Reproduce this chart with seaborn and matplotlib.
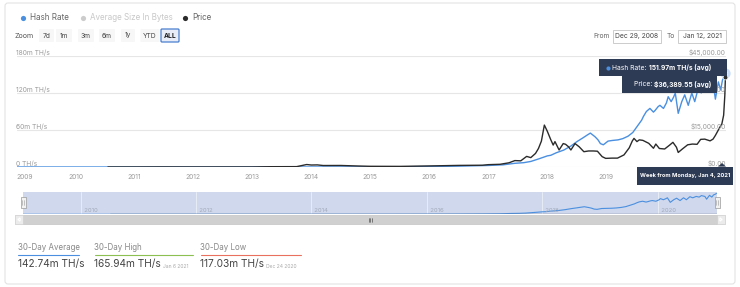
import numpy as np
import pandas as pd
import matplotlib
matplotlib.use("Agg")
import matplotlib.pyplot as plt
import seaborn as sns
from matplotlib.patches import Rectangle, FancyBboxPatch, Polygon

# ---------------- data ----------------
hash_x = [2009.0, 2010.0, 2011.0, 2012.0, 2013.0, 2014.0, 2014.5, 2015.0, 2015.5, 2016.0, 2016.5,
          2017.0, 2017.25, 2017.45, 2017.6, 2017.72, 2017.85, 2018.0, 2018.06, 2018.15, 2018.28,
          2018.4, 2018.5, 2018.6, 2018.68, 2018.73, 2018.81, 2018.86, 2018.9, 2018.95, 2019.03,
          2019.1, 2019.2, 2019.28, 2019.37, 2019.45, 2019.54, 2019.6, 2019.63, 2019.68, 2019.74,
          2019.8, 2019.83, 2019.88, 2019.91, 2019.97, 2020.02, 2020.05, 2020.1, 2020.14, 2020.17,
          2020.22, 2020.28, 2020.33, 2020.39, 2020.45, 2020.5, 2020.56, 2020.61, 2020.67, 2020.72,
          2020.76, 2020.82, 2020.85, 2020.9, 2020.94, 2020.97, 2021.0, 2021.02]
hash_rate = [0.0, 0.0, 0.0, 0.0, 0.0, 0.01, 0.1, 0.3, 0.4, 0.8, 1.4,
             2.5, 3.5, 6, 7, 9, 13, 18, 19, 23, 27.5,
             34, 41, 47, 52, 55, 49, 44, 38, 36, 42,
             43, 44, 46, 50, 56, 68, 76, 82, 90, 95,
             89, 92, 98, 100, 95, 104, 114, 106, 113, 120,
             87, 106, 117, 100, 120, 106, 128, 120, 130, 125,
             136, 130, 110, 138, 125, 141, 146, 151.97]

price_x = [2010.55, 2011.0, 2011.45, 2012.0, 2013.0, 2013.3, 2013.75, 2013.92, 2014.0, 2014.1,
           2014.2, 2014.5, 2014.8, 2015.0, 2015.5, 2016.0, 2016.5, 2016.9, 2017.0, 2017.2,
           2017.35, 2017.45, 2017.55, 2017.65, 2017.72, 2017.8, 2017.85, 2017.9, 2017.95, 2018.0,
           2018.06, 2018.1, 2018.13, 2018.2, 2018.27, 2018.31, 2018.36, 2018.4, 2018.47, 2018.54,
           2018.62, 2018.7, 2018.78, 2018.85, 2018.93, 2018.99, 2019.1, 2019.19, 2019.3, 2019.39,
           2019.44, 2019.47, 2019.52, 2019.56, 2019.62, 2019.72, 2019.8, 2019.84, 2019.9, 2019.99,
           2020.07, 2020.13, 2020.19, 2020.22, 2020.29, 2020.38, 2020.46, 2020.54, 2020.6, 2020.67,
           2020.76, 2020.81, 2020.85, 2020.9, 2020.93, 2020.96, 2020.99, 2021.01, 2021.02]
price = [0.07, 0.3, 25, 6, 14, 120, 150, 1000, 800, 850,
         600, 620, 400, 280, 250, 430, 650, 720, 950, 1100,
         1700, 2600, 2500, 4300, 3800, 5500, 7500, 10500, 17000, 14500,
         11000, 8900, 10300, 6900, 9500, 9200, 8200, 6900, 9500, 8200,
         6200, 6500, 6500, 6400, 4200, 3500, 3600, 3600, 4900, 7800,
         10500, 11600, 10300, 11000, 10800, 9600, 7600, 9300, 7500, 7300,
         8800, 10000, 8000, 5900, 7300, 9000, 9300, 9200, 11200, 11300,
         10600, 11300, 12800, 15000, 16300, 17500, 21000, 29000, 36389.55]

year_ticks = list(range(2009, 2020))
nav_ticks = [2010, 2012, 2014, 2016, 2018, 2020]
left_ticks = [0, 60, 120, 180]
left_labels = ["0 TH/s", "60m TH/s", "120m TH/s", "180m TH/s"]
right_ticks = [0, 15000, 30000, 45000]
right_labels = ["$0.00", "$15,000.00", "$30,000.00", "$45,000.00"]

legend_items = ["Hash Rate", "Average Size In Bytes", "Price"]
zoom_buttons = ["7d", "1m", "3m", "6m", "1y", "YTD", "ALL"]
date_from, date_to = "Dec 29, 2008", "Jan 12, 2021"

stat_titles = ["30-Day Average", "30-Day High", "30-Day Low"]
stat_values = ["142.74m TH/s", "165.94m TH/s", "117.03m TH/s"]
stat_dates = ["", "Jan 6 2021", "Dec 24 2020"]

tip_hash = ("Hash Rate: ", "151.97m TH/s (avg)")
tip_price = ("Price: ", "$36,389.55 (avg)")
tip_date = "Week from Monday, Jan 4, 2021"

BLUE = "#4a8fe0"
DARK = "#2b2b2b"
NAVY = "#2e3b54"
GRAY = "#9a9a9a"

df_hash = pd.DataFrame({"year": hash_x, "hash": hash_rate})
df_price = pd.DataFrame({"year": price_x, "price": price})

# ---------------- figure ----------------
sns.set_theme(style="white")
plt.rcParams["font.family"] = ["Inter", "DejaVu Sans"]

W, H = 740, 287
fig = plt.figure(figsize=(W / 100, H / 100), dpi=100)
fig.patch.set_facecolor("white")

def fx(px):
    return px / W

def fy(py):
    return 1 - py / H

XMIN, XMAX = 2009.0, 2021.03

# main axes
ax = fig.add_axes([fx(16.5), fy(167), fx(726) - fx(16.5), fy(56) - fy(167)])
ax2 = ax.twinx()
for a in (ax, ax2):
    a.set_facecolor("none")
    for s in a.spines.values():
        s.set_visible(False)
ax.set_xlim(XMIN, XMAX)
ax.set_ylim(0, 180)
ax2.set_ylim(0, 45000)
ax.set_yticks(left_ticks)
ax.set_yticklabels([])
ax2.set_yticks(right_ticks)
ax2.set_yticklabels([])
ax.tick_params(axis="both", length=0)
ax2.tick_params(axis="both", length=0)
ax.yaxis.grid(True, color="#e6e6e6", lw=0.8)
ax.set_axisbelow(True)
ax.set_xticks(year_ticks)
ax.set_xticklabels([str(y) for y in year_ticks], fontsize=4.8, color=GRAY)
ax.tick_params(axis="x", pad=5)
ax.get_xticklabels()[0].set_ha("left")

sns.lineplot(data=df_hash, x="year", y="hash", ax=ax, color=BLUE, lw=1.0, legend=False)
sns.lineplot(data=df_price, x="year", y="price", ax=ax2, color=DARK, lw=1.0, legend=False)
ax.set_xlabel("")
ax.set_ylabel("")
ax2.set_ylabel("")
ax2.set_xlim(XMIN, XMAX)

for v, lab in zip(left_ticks, left_labels):
    ax.text(0, v, lab, transform=ax.get_yaxis_transform(), ha="left", va="bottom",
            fontsize=4.8, color=GRAY)
for v, lab in zip(right_ticks, right_labels):
    ax2.text(1, v, lab, transform=ax2.get_yaxis_transform(), ha="right", va="bottom",
             fontsize=4.8, color=GRAY)

# end markers
ax.scatter([hash_x[-1]], [hash_rate[-1]], s=55, color=BLUE, alpha=0.3, lw=0, zorder=5, clip_on=False)
ax.scatter([hash_x[-1]], [hash_rate[-1]], s=10, color=BLUE, edgecolor="white", lw=0.5, zorder=6, clip_on=False)
ax2.scatter([price_x[-1]], [price[-1]], s=12, color=DARK, edgecolor="white", lw=0.5, zorder=6, clip_on=False)

# navigator
nav = fig.add_axes([fx(23), fy(214.3), fx(717) - fx(23), fy(192.3) - fy(214.3)])
nav.set_facecolor("#cfd8ec")
for s in nav.spines.values():
    s.set_visible(False)
nav.set_xlim(XMIN, XMAX)
nav.set_ylim(0, 160)
nav.set_xticks(nav_ticks)
nav.set_xticklabels([])
nav.set_yticks([])
nav.tick_params(length=0)
nav.xaxis.grid(True, color="#e8ecf5", lw=0.7)
nav.set_axisbelow(True)
sns.lineplot(data=df_hash, x="year", y="hash", ax=nav, color=BLUE, lw=0.8, legend=False)
nav.axhline(0, color="#6f7a8e", lw=1.0, xmin=0.125)
nav.set_xlabel("")
nav.set_ylabel("")
for y in nav_ticks:
    nav.text(y, 0.04, "  " + str(y), transform=nav.get_xaxis_transform(), ha="left", va="bottom",
             fontsize=4.3, color="#a3abbc")

# overlay for UI pieces (pixel coordinates)
ui = fig.add_axes([0, 0, 1, 1], zorder=10)
ui.set_xlim(0, W)
ui.set_ylim(H, 0)
ui.axis("off")
ui.patch.set_visible(False)

# outer frame
ui.add_patch(FancyBboxPatch((5, 3), 730, 281, boxstyle="round,pad=0,rounding_size=3",
                            fc="none", ec="#e3e3e3", lw=0.8))

# legend
leg_x = [22.5, 83, 185]
leg_col = [BLUE, "#cccccc", DARK]
leg_txt = ["#666666", "#c8c8c8", "#666666"]
for x, lab, c, tc in zip(leg_x, legend_items, leg_col, leg_txt):
    ui.scatter([x], [17.5], s=14, color=c, lw=0)
    ui.text(x + 7, 17.5, lab, ha="left", va="center", fontsize=5.8, color=tc)

# zoom buttons
ui.text(15, 35.5, "Zoom", ha="left", va="center", fontsize=5.0, color="#555555")
btn_cx = [46.5, 64, 86, 107, 128, 150, 170]
btn_w = [15, 16, 16, 16, 14, 19, 18]
for cx, w, lab in zip(btn_cx, btn_w, zoom_buttons):
    active = lab == "ALL"
    ui.add_patch(FancyBboxPatch((cx - w / 2, 29), w, 13, boxstyle="round,pad=0,rounding_size=1",
                                fc="#e8edf7" if active else "#f7f7f7",
                                ec="#4a7fd0" if active else "none", lw=0.9))
    ui.text(cx, 35.5, lab, ha="center", va="center", fontsize=4.8,
            color="#222222" if active else "#444444", fontweight="bold" if active else "normal")

# date range inputs
ui.text(593, 35.5, "From", ha="left", va="center", fontsize=4.8, color="#666666")
ui.add_patch(Rectangle((613, 29.5), 48, 13.5, fc="white", ec="#cccccc", lw=0.7))
ui.text(637, 36, date_from, ha="center", va="center", fontsize=4.8, color="#444444")
ui.text(666.5, 35.5, "To", ha="left", va="center", fontsize=4.8, color="#666666")
ui.add_patch(Rectangle((678, 29.5), 48, 13.5, fc="white", ec="#cccccc", lw=0.7))
ui.text(702, 36, date_to, ha="center", va="center", fontsize=4.8, color="#444444")

# tooltips
renderer = fig.canvas.get_renderer()

def two_part(x_right, y, normal, bold):
    t = ui.text(x_right, y, bold, ha="right", va="center", fontsize=4.8, color="white",
                fontweight="bold")
    bb = t.get_window_extent(renderer)
    left = bb.x0 * W / fig.bbox.width
    t2 = ui.text(left, y, normal, ha="right", va="center", fontsize=4.8, color="white")
    bb2 = t2.get_window_extent(renderer)
    return bb2.x0 * W / fig.bbox.width

ui.add_patch(Rectangle((599, 59), 128, 17, fc=NAVY, ec="none"))
ui.add_patch(Rectangle((622, 76), 95, 17, fc=NAVY, ec="none"))
lx = two_part(711, 67.5, tip_hash[0], tip_hash[1])
ui.scatter([lx - 4.5], [67.5], s=9, color=BLUE, lw=0)
two_part(711, 84.5, tip_price[0], tip_price[1])

ui.add_patch(Rectangle((637, 166.5), 96, 18, fc=NAVY, ec="none"))
ui.add_patch(Polygon([[718, 166.6], [722, 163], [726, 166.6]], closed=True, fc=NAVY, ec="none"))
ui.text(685, 175.5, tip_date, ha="center", va="center", fontsize=4.1, color="white",
        fontweight="bold")

# navigator handles
for hx in (23, 717):
    ui.add_patch(Rectangle((hx - 2.5, 197), 5, 11, fc="#f2f2f2", ec="#999999", lw=0.5))
    ui.plot([hx - 0.7, hx - 0.7], [200, 205], color="#999999", lw=0.4)
    ui.plot([hx + 0.7, hx + 0.7], [200, 205], color="#999999", lw=0.4)

# scrollbar
ui.add_patch(Rectangle((15, 215), 710, 9, fc="#f2f2f2", ec="#e0e0e0", lw=0.5))
ui.add_patch(Rectangle((23, 215), 694, 9, fc="#d0d0d0", ec="#c4c4c4", lw=0.4))
for ax_ in (19, 721):
    ui.add_patch(Rectangle((ax_ - 4, 215), 8, 9, fc="#ebebeb", ec="#cccccc", lw=0.4))
ui.add_patch(Polygon([[17.8, 219.5], [20, 218], [20, 221]], closed=True, fc="#333333"))
ui.add_patch(Polygon([[722.2, 219.5], [720, 218], [720, 221]], closed=True, fc="#333333"))
for dx in (-1.5, 0, 1.5):
    ui.plot([370 + dx, 370 + dx], [217.5, 221.5], color="#333333", lw=0.4)

# stats
stat_x = [18, 94.5, 200.5]
stat_w = [61, 98, 100]
stat_c = [BLUE, "#8cc152", "#e9705f"]
for x, w, c, t, v, d in zip(stat_x, stat_w, stat_c, stat_titles, stat_values, stat_dates):
    ui.text(x, 248, t, ha="left", va="center", fontsize=5.7, color="#888888")
    ui.plot([x, x + w], [254.5, 254.5], color=c, lw=0.8)
    tv = ui.text(x, 264.5, v, ha="left", va="center", fontsize=7.3, color="#444444")
    if d:
        bb = tv.get_window_extent(renderer)
        rx = bb.x1 * W / fig.bbox.width
        ui.text(rx + 2, 266, d, ha="left", va="center", fontsize=3.6, color="#aaaaaa")

fig.savefig("out.png", dpi=100, facecolor="white")
